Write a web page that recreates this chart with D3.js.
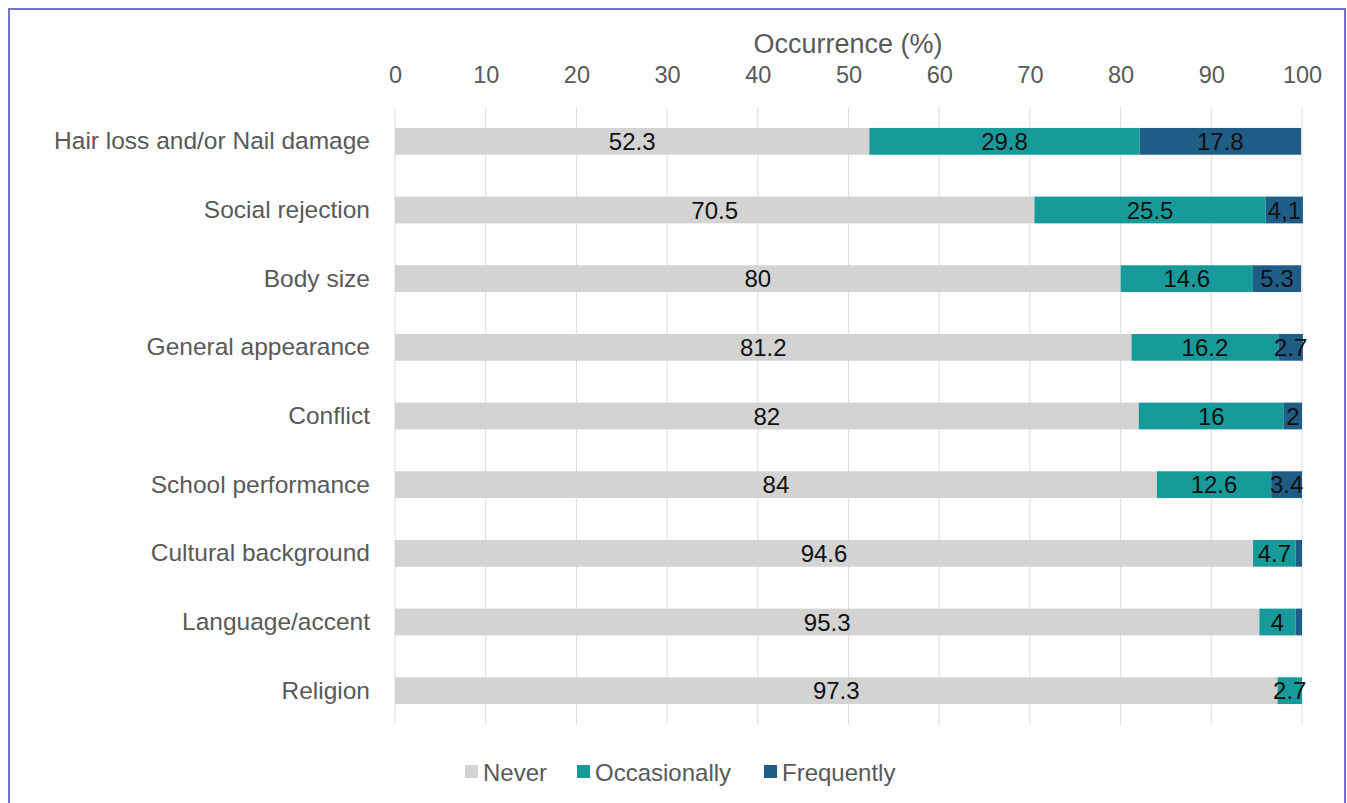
<!DOCTYPE html>
<html><head><meta charset="utf-8">
<script src="https://cdn.jsdelivr.net/npm/d3@7"></script>
<style>body{margin:0;background:#fff;}svg{display:block;font-family:"Liberation Sans",Arial,sans-serif;}</style>
</head><body><svg id="c" width="1347" height="803"></svg>
<script>
const categories = ["Hair loss and/or Nail damage","Social rejection","Body size","General appearance","Conflict","School performance","Cultural background","Language/accent ","Religion"];
const seriesNames = ["Never","Occasionally","Frequently"];
const never = [52.3,70.5,80,81.2,82,84,94.6,95.3,97.3];
const occasionally = [29.8,25.5,14.6,16.2,16,12.6,4.7,4,2.7];
const frequently = [17.8,4.1,5.3,2.7,2,3.4,0.7,0.7,0];
const neverLabels = ["52.3","70.5","80","81.2","82","84","94.6","95.3","97.3"];
const occLabels = ["29.8","25.5","14.6","16.2","16","12.6","4.7","4","2.7"];
const freqLabels = ["17.8","4,1","5.3","2.7","2","3.4","","",""];
const xTicks = [0,10,20,30,40,50,60,70,80,90,100];
const colors = ["#d3d3d3","#189a9b","#205d86"];

const svg = d3.select("#c");
svg.append("rect").attr("x",9).attr("y",9).attr("width",1336).attr("height",800)
  .attr("fill","#fff").attr("stroke","#7474c4").attr("stroke-width",2);

const x = d3.scaleLinear().domain([0,100]).range([395,1302]);
const y = d3.scaleBand().domain(categories).range([107,725]).paddingInner(0.61).paddingOuter(0.305);

const g = svg.append("g");
g.selectAll("line.grid").data(xTicks).join("line")
  .attr("x1",d=>x(d)).attr("x2",d=>x(d)).attr("y1",107).attr("y2",725)
  .attr("stroke","#dcdcdc").attr("stroke-width",1);

const axis = d3.axisTop(x).tickValues(xTicks).tickSize(0).tickPadding(0);
const ax = svg.append("g").attr("transform","translate(0,83)").call(axis);
ax.select(".domain").remove();
ax.selectAll("text").attr("font-size",23.5).attr("fill","#595959").attr("font-family","Liberation Sans, Arial, sans-serif");

svg.append("text").attr("x",848).attr("y",53).attr("text-anchor","middle")
  .attr("font-size",27).attr("fill","#595959").text("Occurrence (%)");

const yAxis = d3.axisLeft(y).tickSize(0).tickPadding(0);
const ay = svg.append("g").attr("transform","translate(370,0)").call(yAxis);
ay.select(".domain").remove();
ay.selectAll("text").attr("font-size",24.5).attr("fill","#595959").attr("font-family","Liberation Sans, Arial, sans-serif");

const series = [never,occasionally,frequently];
const labels = [neverLabels,occLabels,freqLabels];
const rows = categories.map((c,i)=>{
  let s=0; return series.map((arr,k)=>{const v={cat:c,k:k,x0:s,x1:s+arr[i],label:labels[k][i]}; s+=arr[i]; return v;});
}).flat();

svg.append("g").selectAll("rect").data(rows.filter(d=>d.x1>d.x0)).join("rect")
  .attr("x",d=>x(d.x0)).attr("width",d=>x(d.x1)-x(d.x0))
  .attr("y",d=>y(d.cat)).attr("height",y.bandwidth())
  .attr("fill",d=>colors[d.k]);

svg.append("g").selectAll("text").data(rows.filter(d=>d.label)).join("text")
  .attr("x",d=>x((d.x0+d.x1)/2)).attr("y",d=>y(d.cat)+y.bandwidth()/2)
  .attr("dy","0.36em").attr("text-anchor","middle").attr("font-size",24).attr("fill","#111")
  .text(d=>d.label);

const leg = svg.append("g").attr("transform","translate(0,772)");
const legX = [465,577,764];
seriesNames.forEach((n,i)=>{
  const gx = legX[i];
  leg.append("rect").attr("x",gx).attr("y",-7).attr("width",13).attr("height",13).attr("fill",colors[i]);
  leg.append("text").attr("x",gx+18).attr("y",0).attr("dy","0.36em").attr("font-size",24).attr("fill","#595959").text(n);
});
</script></body></html>
